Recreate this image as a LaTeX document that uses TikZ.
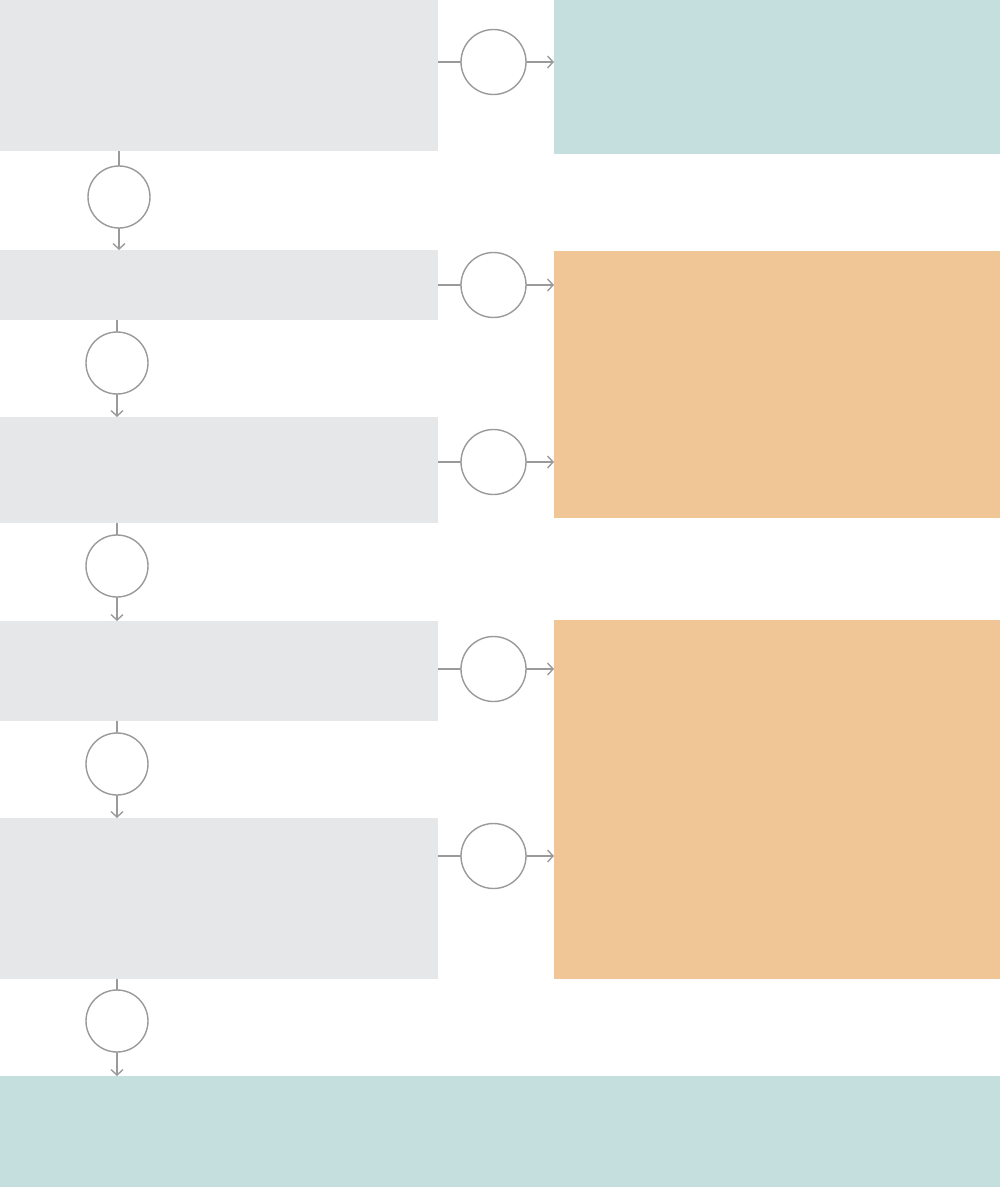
\documentclass[tikz,border=0pt]{standalone}
\usepackage{tikz}
\usetikzlibrary{arrows.meta}

\definecolor{stagegray}{HTML}{E6E7E8}
\definecolor{resultteal}{HTML}{C5DFDF}
\definecolor{outorange}{HTML}{F0C697}
\definecolor{linkgray}{HTML}{9A9A9A}

\begin{document}
\begin{tikzpicture}[y=-1cm, >={Straight Barb[length=1.1mm,width=2.4mm]},
  block/.style={draw=none, inner sep=0pt, outer sep=0pt, anchor=north west},
  stagebox/.style={block, fill=stagegray, minimum width=8.76cm},
  hub/.style={circle, draw=linkgray, line width=0.8pt, fill=white,
    inner sep=0pt, outer sep=0pt, minimum size=1.3cm},
  vhub/.style={hub, minimum size=1.24cm},
  link/.style={draw=linkgray, line width=0.8pt}]

  % page frame
  \useasboundingbox (0,0) rectangle (20,23.76);

  % Left column: process stages
  \node[stagebox, minimum height=3.02cm] (g1) at (0,0) {};
  \node[stagebox, minimum height=1.40cm] (g2) at (0,5.00) {};
  \node[stagebox, minimum height=2.12cm] (g3) at (0,8.34) {};
  \node[stagebox, minimum height=2.00cm] (g4) at (0,12.42) {};
  \node[stagebox, minimum height=3.22cm] (g5) at (0,16.36) {};

  % Right column: outputs
  \node[block, fill=resultteal, minimum width=8.92cm, minimum height=3.08cm] (t1) at (11.08,0) {};
  \node[block, fill=outorange, minimum width=8.92cm, minimum height=5.34cm] (o1) at (11.08,5.02) {};
  \node[block, fill=outorange, minimum width=8.92cm, minimum height=7.18cm] (o2) at (11.08,12.40) {};

  % Bottom result
  \node[block, fill=resultteal, minimum width=20cm, minimum height=2.22cm] (t2) at (0,21.52) {};

  % Horizontal hubs
  \node[hub] (h1) at (9.87,1.24) {};
  \node[hub] (h2) at (9.87,5.70) {};
  \node[hub] (h3) at (9.87,9.24) {};
  \node[hub] (h4) at (9.87,13.38) {};
  \node[hub] (h5) at (9.87,17.12) {};

  % Vertical hubs
  \node[vhub] (v1) at (2.38,3.94) {};
  \node[vhub] (v2) at (2.34,7.26) {};
  \node[vhub] (v3) at (2.34,11.32) {};
  \node[vhub] (v4) at (2.34,15.28) {};
  \node[vhub] (v5) at (2.34,20.42) {};

  % Stage -> output links
  \draw[link] (h1 -| g1.east) -- (h1);
  \draw[link, ->] (h1) -- (h1 -| t1.west);
  \draw[link] (h2 -| g2.east) -- (h2);
  \draw[link, ->] (h2) -- (h2 -| o1.west);
  \draw[link] (h3 -| g3.east) -- (h3);
  \draw[link, ->] (h3) -- (h3 -| o1.west);
  \draw[link] (h4 -| g4.east) -- (h4);
  \draw[link, ->] (h4) -- (h4 -| o2.west);
  \draw[link] (h5 -| g5.east) -- (h5);
  \draw[link, ->] (h5) -- (h5 -| o2.west);

  % Stage -> stage links
  \draw[link] (v1 |- g1.south) -- (v1);
  \draw[link, ->] (v1) -- (v1 |- g2.north);
  \draw[link] (v2 |- g2.south) -- (v2);
  \draw[link, ->] (v2) -- (v2 |- g3.north);
  \draw[link] (v3 |- g3.south) -- (v3);
  \draw[link, ->] (v3) -- (v3 |- g4.north);
  \draw[link] (v4 |- g4.south) -- (v4);
  \draw[link, ->] (v4) -- (v4 |- g5.north);
  \draw[link] (v5 |- g5.south) -- (v5);
  \draw[link, ->] (v5) -- (v5 |- t2.north);
\end{tikzpicture}
\end{document}
